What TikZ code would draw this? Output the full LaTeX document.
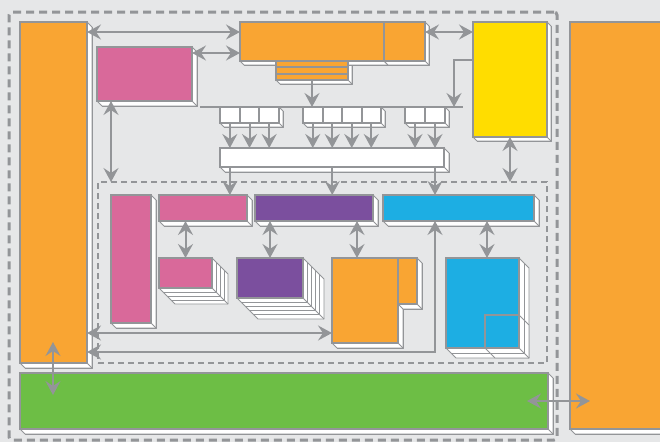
\documentclass[tikz,border=0pt]{standalone}
\usetikzlibrary{arrows.meta,calc}
\definecolor{bggray}{HTML}{E6E7E8}
\definecolor{lgray}{HTML}{939598}
\definecolor{orng}{HTML}{F9A533}
\definecolor{pnk}{HTML}{D9699A}
\definecolor{prpl}{HTML}{7B4F9E}
\definecolor{cyn}{HTML}{1DAEE3}
\definecolor{ylw}{HTML}{FFDD00}
\definecolor{grn}{HTML}{6DBE45}
\pgfdeclarelayer{bg}
\pgfdeclarelayer{ext}
\pgfsetlayers{bg,ext,main}
\tikzset{
  blk/.style={draw=lgray, line width=2.6pt, fill=#1, anchor=north west, inner sep=0pt, outer sep=0pt},
  cell/.style={blk=white, line width=2pt, minimum width=#1, minimum height=16pt},
  grp/.style={anchor=north west, inner sep=0pt, outer sep=0pt, minimum height=16pt},
  shd/.style={draw=lgray, line width=0.9pt, fill=white, line join=round},
  outerbox/.style={draw=lgray, line width=3pt, dash pattern=on 8pt off 5pt, rounded corners=3pt, anchor=north west, inner sep=0pt, outer sep=0pt},
  innerbox/.style={draw=lgray, line width=2pt, dash pattern=on 6pt off 4pt, anchor=north west, inner sep=0pt, outer sep=0pt},
  wire/.style={draw=lgray, line width=2pt},
  tip/.tip={Stealth[length=14pt,width=15pt,inset=5pt]},
  sgl/.style={wire, -tip},
  dbl/.style={wire, tip-tip},
}
\newcommand\slab[3]{%
  \begin{pgfonlayer}{ext}
    \draw[shd] (#1.north east) -- ++(#2,#2) -- ($(#1.south east)+(#2,#2)$) -- ($(#1.south west)+(#2,#2)$) -- (#1.south west) -- cycle;
    \draw[shd] (#1.south east) -- ++(#2,#2);
    \foreach \s in {#3} {\draw[shd,fill=none] ($(#1.north east)+(\s,\s)$) -- ($(#1.south east)+(\s,\s)$) -- ($(#1.south west)+(\s,\s)$);}
  \end{pgfonlayer}}

\begin{document}
\begin{tikzpicture}[x=1pt,y=-1pt]
	\useasboundingbox (0,0) rectangle (660,442);
	\begin{pgfonlayer}{bg}
		\fill[bggray] (0,0) rectangle (660,442);
	\end{pgfonlayer}

	\node[outerbox, minimum width=548pt, minimum height=428pt] (outer) at (9,12) {};
	\node[innerbox, minimum width=449pt, minimum height=181pt] (inner) at (98,182) {};

	\node[blk=orng, minimum width=67pt, minimum height=341pt] (lcol) at (20,22) {};
	\node[blk=orng, minimum width=94pt, minimum height=407pt] (rcol) at (570,22) {};
	\node[blk=grn, minimum width=528pt, minimum height=56pt] (grn) at (20,373) {};
	\node[blk=pnk, minimum width=95pt, minimum height=54pt] (pinkA) at (97,47) {};
	\node[blk=orng, minimum width=72pt, minimum height=19pt] (stk) at (276,61) {};
	\node[blk=orng, minimum width=144pt, minimum height=39pt] (topo) at (240,22) {};
	\node[blk=orng, minimum width=41pt, minimum height=39pt] (topo2) at (384,22) {};
	\node[blk=ylw, minimum width=74pt, minimum height=115pt] (yel) at (473,22) {};
	\foreach \s in {6.3,12.7}
		\draw[wire] ($(stk.north west)+(0,\s)$) -- ($(stk.north east)+(0,\s)$);
	\slab{lcol}{5}{5} \slab{rcol}{5}{5} \slab{grn}{5}{5} \slab{pinkA}{5}{5}
	\slab{stk}{4}{4} \slab{topo}{4}{4} \slab{topo2}{4}{4} \slab{yel}{4}{4}

	\coordinate (busl) at (200,107);
	\coordinate (busr) at (463,107);
	\draw[wire] (busl) -- (busr);
	\node[grp, minimum width=59pt] (ga) at (220,107) {};
	\node[grp, minimum width=78pt] (gb) at (303,107) {};
	\node[grp, minimum width=40pt] (gc) at (405,107) {};
	\foreach \i in {0,1,2} \node[cell=19.67pt] (ca\i) at (220+19.67*\i,107) {};
	\foreach \i in {0,1,2,3} \node[cell=19.5pt] (cb\i) at (303+19.5*\i,107) {};
	\foreach \i in {0,1} \node[cell=20pt] (cc\i) at (405+20*\i,107) {};
	\slab{ga}{4}{4} \slab{gb}{4}{4} \slab{gc}{4}{4}
	\node[blk=white, minimum width=224pt, minimum height=19pt] (wbar) at (220,148) {};
	\slab{wbar}{5}{5}

	\node[blk=pnk, minimum width=40pt, minimum height=128pt] (pinkT) at (111,195) {};
	\node[blk=pnk, minimum width=88pt, minimum height=26pt] (pinkH) at (159,195) {};
	\node[blk=prpl, minimum width=118pt, minimum height=26pt] (purpH) at (255,195) {};
	\node[blk=cyn, minimum width=151pt, minimum height=26pt] (blueH) at (383,195) {};
	\node[blk=pnk, minimum width=53pt, minimum height=30pt] (pinkS) at (159,258) {};
	\node[blk=prpl, minimum width=66pt, minimum height=40pt] (purpS) at (237,258) {};
	\node[blk=orng, minimum width=66pt, minimum height=85pt] (ormain) at (332,258) {};
	\node[blk=orng, minimum width=19pt, minimum height=46pt] (orside) at (398,258) {};
	\node[blk=cyn, minimum width=73pt, minimum height=90pt] (blueS) at (446,258) {};
	\node[blk=cyn, minimum width=34pt, minimum height=33pt] (binner) at (485,315) {};
	\slab{pinkT}{5}{5} \slab{pinkH}{5}{5} \slab{purpH}{5}{5} \slab{blueH}{5}{5}
	\slab{pinkS}{16}{4,8,12} \slab{purpS}{21}{4.2,8.4,12.6,16.8}
	\slab{ormain}{5}{5} \slab{orside}{5}{5}
	\slab{blueS}{10}{5} \slab{binner}{10}{5}

	\draw[dbl] ($(lcol.north east)+(0,10)$) -- ($(topo.north west)+(0,10)$);
	\draw[dbl] ($(pinkA.north east)+(0,6)$) -- ($(topo.north west)+(0,31)$);
	\draw[dbl] ($(topo2.north east)+(0,10)$) -- ($(yel.north west)+(0,10)$);
	\draw[sgl] (stk.south) -- (stk.south |- busl);
	\draw[sgl] ($(yel.north west)+(0,38)$) -| ($(busr)+(-9,0)$);
	\coordinate (pa) at ($(pinkA.south west)+(14,0)$);
	\draw[dbl] (pa) -- (pa |- inner.north);
	\draw[dbl] (yel.south) -- (yel.south |- inner.north);
	\foreach \c in {ca0,ca1,ca2,cb0,cb1,cb2,cb3,cc0,cc1}
		\draw[sgl] (\c.south) -- (\c.south |- wbar.north);
	\foreach \c/\t in {ca0/pinkH,cb1/purpH,cc1/blueH}
		\draw[sgl] (\c |- wbar.south) -- (\c |- \t.north);
	\draw[dbl] (pinkS.north |- pinkH.south) -- (pinkS.north);
	\draw[dbl] (purpS.north |- purpH.south) -- (purpS.north);
	\coordinate (om) at ($(ormain.north)+(-8,0)$);
	\draw[dbl] (om |- purpH.south) -- (om);
	\coordinate (bs) at ($(blueS.north)+(4.5,0)$);
	\draw[dbl] (bs |- blueH.south) -- (bs);
	\coordinate (p1) at ($(ormain.south west)+(0,-10)$);
	\draw[dbl] (lcol.east |- p1) -- (p1);
	\coordinate (q) at ($(cc1 |- ormain.south)+(0,9)$);
	\draw[dbl] (lcol.east |- q) -- (q) -- (q |- blueH.south);
	\draw[dbl] ($(lcol.south west)+(33,-21)$) -- ($(grn.north west)+(33,22)$);
	\draw[dbl] ($(grn.east)+(-21,0)$) -- ($(rcol.west |- grn.east)+(20,0)$);
\end{tikzpicture}
\end{document}
